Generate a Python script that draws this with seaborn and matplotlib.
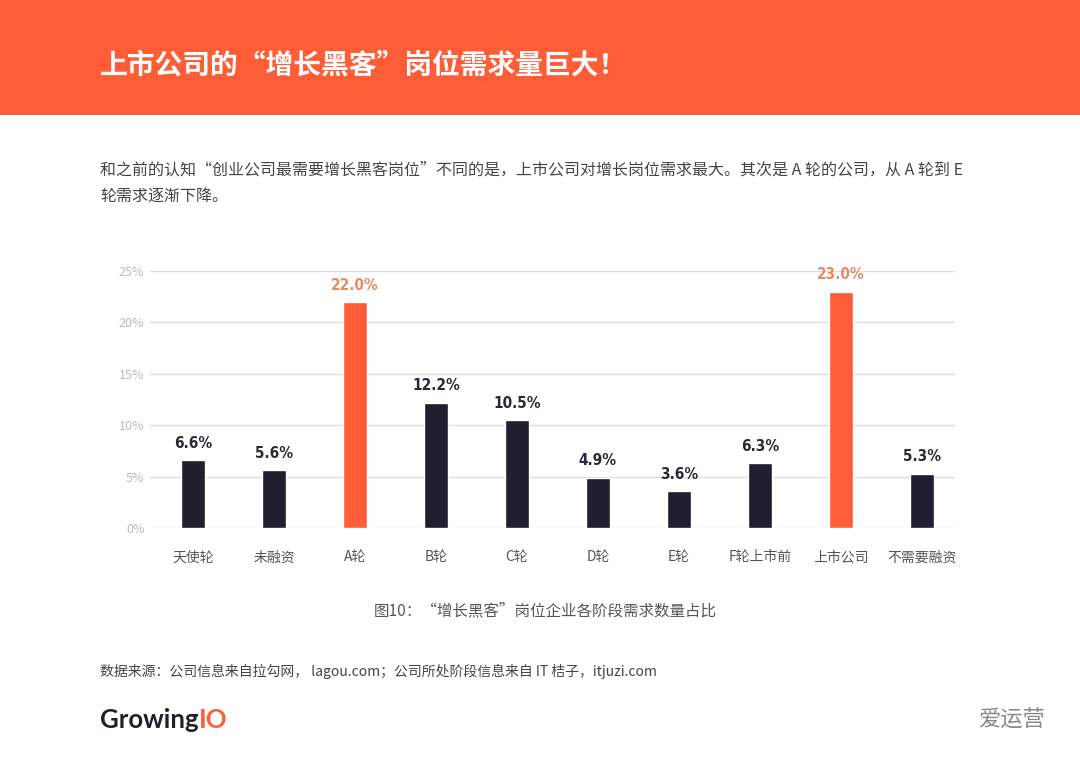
import pandas as pd
import seaborn as sns
import matplotlib.pyplot as plt
from matplotlib.patches import Rectangle
from matplotlib.ticker import FuncFormatter

# Data
stages = ['天使轮', '未融资', 'A轮', 'B轮', 'C轮', 'D轮', 'E轮', 'F轮上市前', '上市公司', '不需要融资']
shares = [6.6, 5.6, 22.0, 12.2, 10.5, 4.9, 3.6, 6.3, 23.0, 5.3]
highlight = ['A轮', '上市公司']

ORANGE = '#FF5C38'
NAVY = '#1F1F2D'
LABEL_ORANGE = '#E98A63'

df = pd.DataFrame({'stage': stages, 'share': shares})
palette = {s: (ORANGE if s in highlight else NAVY) for s in stages}

# Style
sns.set_style('white')
plt.rcParams['font.family'] = ['Noto Sans CJK SC', 'DejaVu Sans']

fig = plt.figure(figsize=(10.8, 7.69), dpi=100)

# Header band
fig.add_artist(Rectangle((0, 1 - 115 / 769), 1, 115 / 769, transform=fig.transFigure,
                         facecolor=ORANGE, edgecolor='none', zorder=0))
fig.text(100 / 1080, 1 - 66 / 769, '上市公司的“增长黑客”岗位需求量巨大！', color='white',
         fontsize=20, fontweight='bold', va='center', ha='left')

# Intro text
fig.text(100 / 1080, 1 - 170 / 769,
         '和之前的认知“创业公司最需要增长黑客岗位”不同的是，上市公司对增长岗位需求最大。其次是 A 轮的公司，从 A 轮到 E',
         color='#444444', fontsize=11.5, va='center', ha='left')
fig.text(100 / 1080, 1 - 196 / 769, '轮需求逐渐下降。',
         color='#444444', fontsize=11.5, va='center', ha='left')

# Chart
ax = fig.add_axes([150 / 1080, 241 / 769, 805 / 1080, 257 / 769])
sns.barplot(data=df, x='stage', y='share', hue='stage', palette=palette,
            width=0.29, saturation=1, legend=False, ax=ax, zorder=3)

ax.set_ylim(0, 25)
ax.set_xlim(-0.53, 9.41)
ax.set_yticks([0, 5, 10, 15, 20, 25])
ax.yaxis.set_major_formatter(FuncFormatter(lambda v, p: f'{int(v)}%'))
ax.grid(axis='y', color='#DDDDDD', linewidth=1, zorder=0)
sns.despine(ax=ax, left=True, bottom=True)
ax.tick_params(axis='y', labelsize=9, labelcolor='#BBBBBB', length=0, pad=4)
ax.tick_params(axis='x', labelsize=10, labelcolor='#555555', length=0, pad=16)
ax.set_xlabel('')
ax.set_ylabel('')

# Value labels
for i, (s, v) in enumerate(zip(stages, shares)):
    ax.text(i, v + 0.9, f'{v:.1f}%', ha='center', va='bottom',
            fontsize=11, fontweight='bold', fontstretch='condensed',
            family=['DejaVu Sans Condensed', 'Liberation Sans Narrow', 'DejaVu Sans'],
            color=LABEL_ORANGE if s in highlight else '#2A2A36')

# Caption
fig.text(545 / 1080, 1 - 611 / 769, '图10：“增长黑客”岗位企业各阶段需求数量占比',
         color='#555555', fontsize=11.2, ha='center', va='center')

# Source
fig.text(100 / 1080, 1 - 671 / 769,
         '数据来源：公司信息来自拉勾网， lagou.com；公司所处阶段信息来自 IT 桔子，itjuzi.com',
         color='#444444', fontsize=10, ha='left', va='center')

# Logo
logo = fig.text(100 / 1080, 1 - 720 / 769, 'Growing', color=NAVY, fontsize=18.5,
                fontweight='bold', ha='left', va='center', family=['Lato', 'DejaVu Sans'])
fig.canvas.draw()
bb = logo.get_window_extent()
fig.text(bb.x1 / 1080, 1 - 720 / 769, 'IO', color=ORANGE, fontsize=18.5,
         fontweight='bold', ha='left', va='center', family=['Lato', 'DejaVu Sans'])

# Watermark
fig.text(1045 / 1080, 1 - 720 / 769, '爱运营', color='#888888', fontsize=16,
         ha='right', va='center')

plt.savefig('out.png', dpi=100)
